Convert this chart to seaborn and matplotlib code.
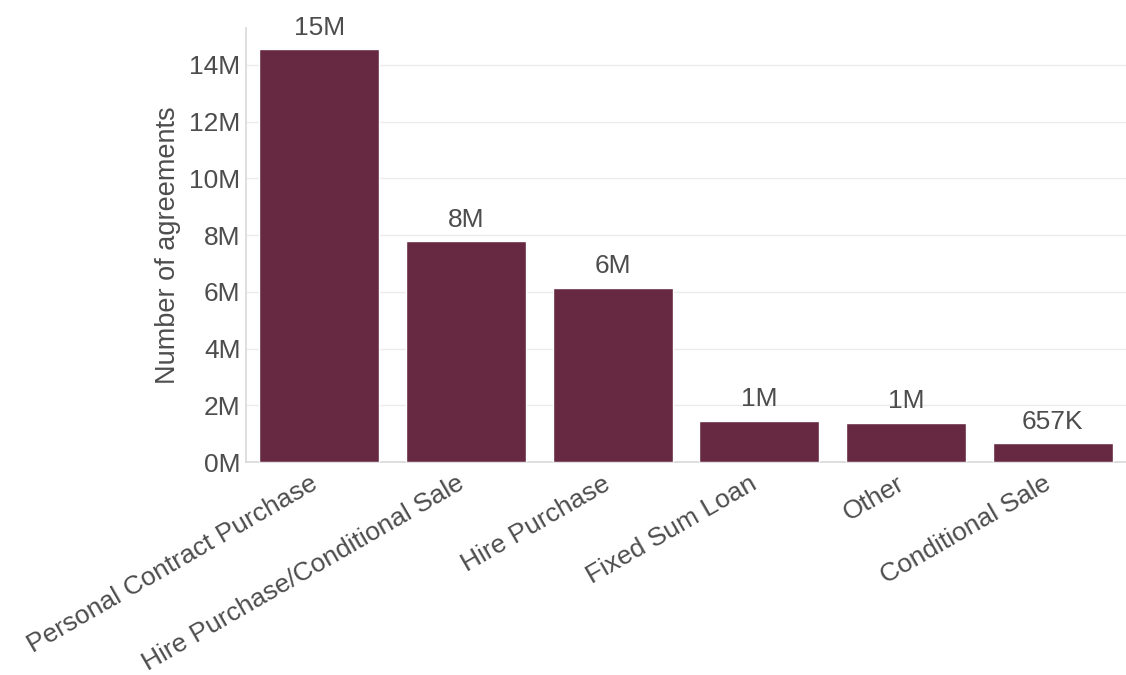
import matplotlib
matplotlib.use("Agg")
import matplotlib.pyplot as plt
import matplotlib.transforms as mtransforms
import seaborn as sns
import pandas as pd
from matplotlib.ticker import FuncFormatter

categories = ["Personal Contract Purchase", "Hire Purchase/Conditional Sale",
              "Hire Purchase", "Fixed Sum Loan", "Other", "Conditional Sale"]
values = [14550000, 7780000, 6140000, 1440000, 1390000, 657000]
labels = ["15M", "8M", "6M", "1M", "1M", "657K"]

df = pd.DataFrame({"category": categories, "value": values})

sns.set_theme(style="white")
plt.rcParams["font.family"] = ["Liberation Sans", "DejaVu Sans"]
txt = "#4d4d4d"
fs = 19

fig = plt.figure(figsize=(11.26, 6.75), dpi=100)
ax = fig.add_axes([246/1126, (675-462)/675, 880/1126, 434/675])
sns.barplot(data=df, x="category", y="value", color="#672842", saturation=1,
            width=0.82, ax=ax, zorder=3)
ax.set_xlim(-0.5, 5.5)
ax.set_ylim(0, 15.3e6)
ax.set_yticks([i * 2e6 for i in range(8)])
ax.yaxis.set_major_formatter(FuncFormatter(lambda v, p: f"{int(round(v/1e6))}M"))
ax.grid(axis="y", color="#ebebeb", linewidth=1, zorder=0)
ax.set_axisbelow(True)
for s in ["top", "right"]:
    ax.spines[s].set_visible(False)
for s in ["left", "bottom"]:
    ax.spines[s].set_color("#d9d9d9")
    ax.spines[s].set_linewidth(1.2)
ax.tick_params(axis="both", length=0, labelsize=fs, colors=txt, pad=4)
ax.set_xlabel("")
ax.set_ylabel("Number of agreements", fontsize=19.5, color=txt, labelpad=6)
shift = mtransforms.ScaledTranslation(-10/100, -4/100, fig.dpi_scale_trans)
for lab in ax.get_xticklabels():
    lab.set_rotation(30)
    lab.set_ha("right")
    lab.set_rotation_mode("anchor")
    lab.set_transform(lab.get_transform() + shift)
for i, (v, l) in enumerate(zip(values, labels)):
    ax.annotate(l, (i, v), xytext=(0, 7), textcoords="offset points",
                ha="center", va="bottom", fontsize=fs, color=txt)
fig.savefig("out.png", dpi=100)
